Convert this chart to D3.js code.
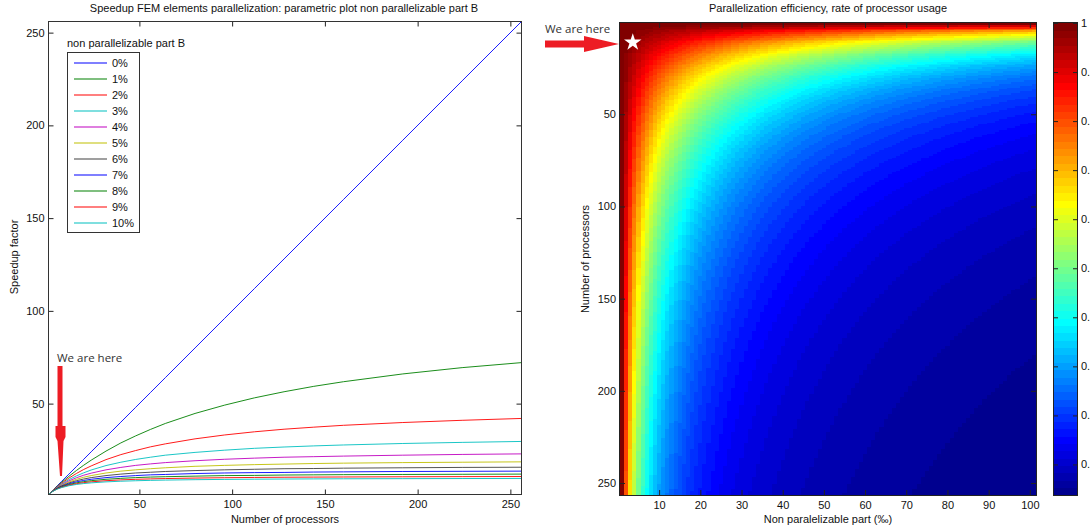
<!DOCTYPE html>
<html>
<head>
<meta charset="utf-8">
<script src="https://cdn.jsdelivr.net/npm/d3@7/dist/d3.min.js"></script>
<style>
  html, body { margin: 0; padding: 0; background: #fff; }
  svg { display: block; }
</style>
</head>
<body>
<script>
// ---------------- DATA ----------------
// Left chart: speedup factor vs number of processors, one series per non-parallelizable part B
const procSamples = [1, 2, 4, 6, 8, 12, 16, 20, 24, 32, 40, 48, 56, 64, 80, 96, 112, 128, 144, 160, 192, 224, 256];
const partLabels = ["0%", "1%", "2%", "3%", "4%", "5%", "6%", "7%", "8%", "9%", "10%"];
const speedupB00 = [1, 2, 4, 6, 8, 12, 16, 20, 24, 32, 40, 48, 56, 64, 80, 96, 112, 128, 144, 160, 192, 224, 256];
const speedupB01 = [1, 1.98, 3.88, 5.71, 7.48, 10.8, 13.9, 16.8, 19.5, 24.4, 28.8, 32.6, 36.1, 39.3, 44.7, 49.2, 53.1, 56.4, 59.3, 61.8, 66.0, 69.4, 72.1];
const speedupB02 = [1, 1.96, 3.77, 5.45, 7.02, 9.84, 12.3, 14.5, 16.4, 19.8, 22.5, 24.7, 26.7, 28.3, 31.0, 33.1, 34.8, 36.2, 37.3, 38.3, 39.8, 41.0, 42.0];
const speedupB03 = [1, 1.94, 3.67, 5.22, 6.61, 9.02, 11.0, 12.7, 14.2, 16.6, 18.4, 19.9, 21.1, 22.2, 23.7, 24.9, 25.9, 26.6, 27.2, 27.7, 28.5, 29.1, 29.6];
const speedupB04 = [1, 1.92, 3.57, 5.0, 6.25, 8.33, 10.0, 11.4, 12.5, 14.3, 15.6, 16.7, 17.5, 18.2, 19.2, 20.0, 20.6, 21.1, 21.4, 21.7, 22.2, 22.6, 22.9];
const speedupB05 = [1, 1.90, 3.48, 4.8, 5.93, 7.74, 9.14, 10.3, 11.2, 12.6, 13.6, 14.3, 14.9, 15.4, 16.2, 16.7, 17.1, 17.4, 17.7, 17.9, 18.2, 18.4, 18.6];
const speedupB06 = [1, 1.89, 3.39, 4.62, 5.63, 7.23, 8.42, 9.35, 10.1, 11.2, 12.0, 12.6, 13.0, 13.4, 13.9, 14.3, 14.6, 14.9, 15.0, 15.2, 15.4, 15.6, 15.7];
const speedupB07 = [1, 1.87, 3.31, 4.44, 5.37, 6.78, 7.81, 8.58, 9.20, 10.1, 10.7, 11.2, 11.6, 11.8, 12.3, 12.6, 12.8, 12.9, 13.1, 13.2, 13.4, 13.5, 13.6];
const speedupB08 = [1, 1.85, 3.23, 4.29, 5.13, 6.38, 7.27, 7.94, 8.45, 9.20, 9.71, 10.1, 10.4, 10.6, 10.9, 11.2, 11.3, 11.5, 11.6, 11.7, 11.8, 11.9, 12.0];
const speedupB09 = [1, 1.84, 3.15, 4.14, 4.91, 6.03, 6.81, 7.38, 7.82, 8.44, 8.87, 9.18, 9.41, 9.60, 9.86, 10.05, 10.19, 10.3, 10.38, 10.45, 10.56, 10.63, 10.69];
const speedupB10 = [1, 1.82, 3.08, 4.0, 4.71, 5.71, 6.40, 6.90, 7.27, 7.81, 8.16, 8.42, 8.62, 8.77, 8.99, 9.14, 9.26, 9.34, 9.41, 9.47, 9.55, 9.61, 9.66];
const speedupSeries = [speedupB00, speedupB01, speedupB02, speedupB03, speedupB04, speedupB05,
                       speedupB06, speedupB07, speedupB08, speedupB09, speedupB10];
const lineColors = ["#0000ff", "#008000", "#ff0000", "#00bfbf", "#bf00bf", "#bfbf00",
                    "#404040", "#0000ff", "#008000", "#ff0000", "#00bfbf"];
const leftXTicks = [50, 100, 150, 200, 250];
const leftYTicks = [50, 100, 150, 200, 250];

// Right chart: parallelization efficiency grid (rows = processors, columns = non-parallelizable part in per mille)
const procCounts = d3.range(1, 257);          // 1 .. 256 processors
const nonParPerMille = d3.range(0, 101);      // 0 .. 100 per mille (column index 1 .. 101)
const rightXTicks = [10, 20, 30, 40, 50, 60, 70, 80, 90, 100];
const rightYTicks = [50, 100, 150, 200, 250];
const colorbarTicks = [0.1, 0.2, 0.3, 0.4, 0.5, 0.6, 0.7, 0.8, 0.9, 1];
const starPoint = { col: 3.6, proc: 11 };
// efficiency = speedup / N (Amdahl), one value per cell
const efficiency = procCounts.map(n => nonParPerMille.map(pm => {
  const b = pm / 1000;
  return 1 / (1 + b * (n - 1));
}));

// ---------------- HELPERS ----------------
function jet(m) {
  const n = Math.ceil(m / 4);
  const u = [];
  for (let i = 1; i <= n; i++) u.push(i / n);
  for (let i = 0; i < n - 1; i++) u.push(1);
  for (let i = n; i >= 1; i--) u.push(i / n);
  const g0 = Math.ceil(n / 2) - (m % 4 === 1 ? 1 : 0);
  const R = new Array(m).fill(0), G = new Array(m).fill(0), B = new Array(m).fill(0);
  u.forEach((v, k) => {
    const gi = g0 + k + 1, ri = gi + n, bi = gi - n;
    if (gi >= 1 && gi <= m) G[gi - 1] = v;
    if (ri >= 1 && ri <= m) R[ri - 1] = v;
    if (bi >= 1 && bi <= m) B[bi - 1] = v;
  });
  return d3.range(m).map(i => d3.rgb(R[i] * 255, G[i] * 255, B[i] * 255).formatHex());
}
const jetColors = jet(64);

// ---------------- SVG ----------------
const W = 1090, H = 531;
const svg = d3.select("body").append("svg")
  .attr("width", W).attr("height", H)
  .style("font-family", "'Liberation Sans', Arial, sans-serif");
svg.append("rect").attr("width", W).attr("height", H).attr("fill", "#fff");

function styleAxis(g) {
  g.select(".domain").remove();
  g.selectAll(".tick line").attr("stroke", "#222");
  g.selectAll(".tick text").attr("fill", "#111").style("font-size", "11px")
    .style("font-family", "'Liberation Sans', Arial, sans-serif");
}

// ================= LEFT CHART =================
const L = { x0: 48.5, x1: 521.5, y0: 21.5, y1: 494.5 };
const xL = d3.scaleLinear().domain([1, 256]).range([L.x0, L.x1]);
const yL = d3.scaleLinear().domain([1, 256]).range([L.y1, L.y0]);

svg.append("defs").append("clipPath").attr("id", "clipL")
  .append("rect").attr("x", L.x0).attr("y", L.y0).attr("width", L.x1 - L.x0).attr("height", L.y1 - L.y0);

const line = d3.line().x(d => xL(d[0])).y(d => yL(d[1]));
const gLines = svg.append("g").attr("clip-path", "url(#clipL)");
speedupSeries.forEach((s, i) => {
  gLines.append("path")
    .attr("d", line(procSamples.map((n, k) => [n, s[k]])))
    .attr("fill", "none").attr("stroke", lineColors[i]).attr("stroke-width", 0.9);
});

svg.append("g").attr("transform", `translate(0,${L.y1})`)
  .call(d3.axisBottom(xL).tickValues(leftXTicks).tickSize(-5).tickPadding(6)).call(styleAxis);
svg.append("g").attr("transform", `translate(0,${L.y0})`)
  .call(d3.axisTop(xL).tickValues(leftXTicks).tickSize(-5).tickFormat("")).call(styleAxis);
svg.append("g").attr("transform", `translate(${L.x0},0)`)
  .call(d3.axisLeft(yL).tickValues(leftYTicks).tickSize(-5).tickPadding(4)).call(styleAxis);
svg.append("g").attr("transform", `translate(${L.x1},0)`)
  .call(d3.axisRight(yL).tickValues(leftYTicks).tickSize(-5).tickFormat("")).call(styleAxis);
svg.append("rect").attr("x", L.x0).attr("y", L.y0).attr("width", L.x1 - L.x0).attr("height", L.y1 - L.y0)
  .attr("fill", "none").attr("stroke", "#333");

svg.append("text").attr("x", 284).attr("y", 12).attr("text-anchor", "middle")
  .style("font-size", "11px").attr("fill", "#111")
  .text("Speedup FEM elements parallelization: parametric plot non parallelizable part B");
svg.append("text").attr("x", 285).attr("y", 523).attr("text-anchor", "middle")
  .style("font-size", "11px").attr("fill", "#111").text("Number of processors");
svg.append("text").attr("transform", "translate(18,257) rotate(-90)").attr("text-anchor", "middle")
  .style("font-size", "11px").attr("fill", "#111").text("Speedup factor");

// legend
svg.append("text").attr("x", 67).attr("y", 47).style("font-size", "11px").attr("fill", "#111")
  .text("non parallelizable part B");
svg.append("rect").attr("x", 67.5).attr("y", 52.5).attr("width", 72).attr("height", 180)
  .attr("fill", "#fff").attr("stroke", "#333");
const legY = d3.scaleLinear().domain([0, 10]).range([63, 223]);
const gLeg = svg.append("g");
partLabels.forEach((lab, i) => {
  gLeg.append("line").attr("x1", 74).attr("x2", 107).attr("y1", legY(i)).attr("y2", legY(i))
    .style("stroke", lineColors[i]).style("stroke-width", "1.2px");
  gLeg.append("text").attr("x", 112).attr("y", legY(i)).attr("dy", "0.35em")
    .style("font-size", "11px").attr("fill", "#111").text(lab);
});

// annotation (left)
svg.append("text").attr("x", 57).attr("y", 362).style("font-family", "'Open Sans', 'DejaVu Sans', sans-serif")
  .style("font-size", "11.5px").attr("fill", "#333").text("We are here");
svg.append("path").attr("fill", "#ed1c24")
  .attr("d", "M57.5,366 L62.5,366 L62.5,426 L65.5,426 L65.5,437 L63.5,441 L62,476 L60,476 L57.5,441 L55.5,437 L55.5,426 L57.5,426 Z");

// ================= RIGHT CHART =================
const R = { x0: 620, x1: 1036, y0: 23, y1: 495 };
const xR = d3.scaleLinear().domain([0.5, 101.5]).range([R.x0, R.x1]);
const yR = d3.scaleLinear().domain([0.5, 256.5]).range([R.y0, R.y1]);
const cMin = d3.min(efficiency, row => d3.min(row));
const cMax = d3.max(efficiency, row => d3.max(row));
const colorOf = v => {
  let idx = Math.floor((v - cMin) / (cMax - cMin) * 64);
  return jetColors[Math.max(0, Math.min(63, idx))];
};

const gHeat = svg.append("g").attr("shape-rendering", "crispEdges");
efficiency.forEach((row, ri) => {
  const n = procCounts[ri];
  const y0 = yR(n - 0.5), y1 = yR(n + 0.5);
  row.forEach((v, ci) => {
    const col = ci + 1;
    const x0 = xR(col - 0.5), x1 = xR(col + 0.5);
    gHeat.append("rect").attr("x", x0).attr("y", y0)
      .attr("width", x1 - x0 + 0.6).attr("height", y1 - y0 + 0.6).attr("fill", colorOf(v));
  });
});

svg.append("g").attr("transform", `translate(0,${R.y1})`)
  .call(d3.axisBottom(xR).tickValues(rightXTicks).tickSize(-5).tickPadding(6)).call(styleAxis);
svg.append("g").attr("transform", `translate(0,${R.y0})`)
  .call(d3.axisTop(xR).tickValues(rightXTicks).tickSize(-5).tickFormat("")).call(styleAxis);
svg.append("g").attr("transform", `translate(${R.x0},0)`)
  .call(d3.axisLeft(yR).tickValues(rightYTicks).tickSize(-5).tickPadding(4)).call(styleAxis);
svg.append("g").attr("transform", `translate(${R.x1},0)`)
  .call(d3.axisRight(yR).tickValues(rightYTicks).tickSize(-5).tickFormat("")).call(styleAxis);
svg.append("rect").attr("x", R.x0 - 0.5).attr("y", R.y0 - 0.5).attr("width", R.x1 - R.x0 + 1).attr("height", R.y1 - R.y0 + 1)
  .attr("fill", "none").attr("stroke", "#222");

svg.append("text").attr("x", (R.x0 + R.x1) / 2).attr("y", 12).attr("text-anchor", "middle")
  .style("font-size", "11px").attr("fill", "#111").text("Parallelization efficiency, rate of processor usage");
svg.append("text").attr("x", (R.x0 + R.x1) / 2).attr("y", 523).attr("text-anchor", "middle")
  .style("font-size", "11px").attr("fill", "#111").text("Non paralelizable part (‰)");
svg.append("text").attr("transform", `translate(589,${(R.y0 + R.y1) / 2}) rotate(-90)`).attr("text-anchor", "middle")
  .style("font-size", "11px").attr("fill", "#111").text("Number of processors");

// star marker
const star = d3.symbol().type(d3.symbolStar).size(95);
svg.append("path").attr("d", star())
  .attr("transform", `translate(${xR(starPoint.col)},${yR(starPoint.proc)})`)
  .attr("fill", "#fff");

// annotation (right)
svg.append("text").attr("x", 545).attr("y", 33).style("font-family", "'Open Sans', 'DejaVu Sans', sans-serif")
  .style("font-size", "11.5px").attr("fill", "#333").text("We are here");
svg.append("path").attr("fill", "#ed1c24")
  .attr("d", "M545,40.5 L584,40.5 L584,36 L619,44 L584,52 L584,47.5 L545,47.5 Z");

// colorbar
const C = { x0: 1054, x1: 1077 };
const yC = d3.scaleLinear().domain([cMin, cMax]).range([R.y1, R.y0]);
const gC = svg.append("g").attr("shape-rendering", "crispEdges");
jetColors.forEach((c, i) => {
  const v0 = cMin + i * (cMax - cMin) / 64, v1 = cMin + (i + 1) * (cMax - cMin) / 64;
  gC.append("rect").attr("x", C.x0).attr("y", yC(v1)).attr("width", C.x1 - C.x0)
    .attr("height", yC(v0) - yC(v1) + 0.6).attr("fill", c);
});
svg.append("g").attr("transform", `translate(${C.x0},0)`)
  .call(d3.axisRight(yC).tickValues(colorbarTicks).tickSize(4).tickFormat("")).call(styleAxis);
svg.append("g").attr("transform", `translate(${C.x1},0)`)
  .call(d3.axisLeft(yC).tickValues(colorbarTicks).tickSize(4).tickFormat("")).call(styleAxis);
svg.append("rect").attr("x", C.x0 - 0.5).attr("y", R.y0 - 0.5).attr("width", C.x1 - C.x0 + 1).attr("height", R.y1 - R.y0 + 1)
  .attr("fill", "none").attr("stroke", "#222");
colorbarTicks.forEach(t => {
  svg.append("text").attr("x", C.x1 + 4).attr("y", yC(t)).attr("dy", "0.35em")
    .style("font-size", "11px").attr("fill", "#111").text(t === 1 ? "1" : d3.format(".1f")(t));
});
</script>
</body>
</html>
